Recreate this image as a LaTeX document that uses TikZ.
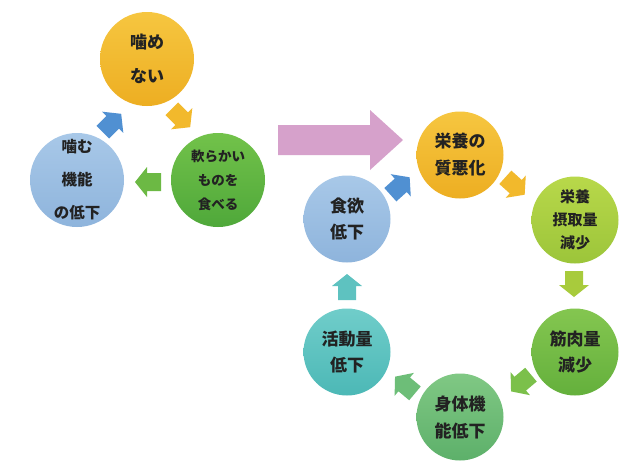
\documentclass[tikz,border=0pt]{standalone}
\usepackage{fontspec}
\setmainfont{Noto Sans CJK JP}
\definecolor{yelT}{HTML}{F6C640}
\definecolor{yelB}{HTML}{EDAE22}
\definecolor{bluT}{HTML}{A8C8E8}
\definecolor{bluB}{HTML}{8EB4DC}
\definecolor{grnT}{HTML}{72C24A}
\definecolor{grnB}{HTML}{4FA83A}
\definecolor{lgrT}{HTML}{B8D84A}
\definecolor{lgrB}{HTML}{9CC53A}
\definecolor{mgrT}{HTML}{84C650}
\definecolor{mgrB}{HTML}{64B03C}
\definecolor{sgrT}{HTML}{80C884}
\definecolor{sgrB}{HTML}{5DB06A}
\definecolor{tealT}{HTML}{70CDCA}
\definecolor{tealB}{HTML}{4CB8B6}
\definecolor{pinkA}{HTML}{D6A1CB}
\definecolor{arBlue}{HTML}{5090D2}
\definecolor{arYel}{HTML}{F2B92C}
\definecolor{arGrn}{HTML}{6CB944}
\definecolor{arLgr}{HTML}{A8CB3C}
\definecolor{arMgr}{HTML}{7BC04A}
\definecolor{arSgr}{HTML}{6DBE78}
\definecolor{arTeal}{HTML}{5EC2C0}
\definecolor{txt}{HTML}{222222}
\tikzset{
  circ/.style={circle, minimum size=#1, inner sep=0pt, align=center, text=txt},
  fs/.style 2 args={font=\fontsize{#1}{#2}\selectfont\bfseries},
  pics/barrow/.style args={#1/#2}{code={
    \fill[#1, rotate=#2] (-13,-9) -- (1,-9) -- (1,-15) -- (13,0) -- (1,15) -- (1,9) -- (-13,9) -- cycle;}}
}
\begin{document}
\begin{tikzpicture}[x=1pt,y=-1pt]
\useasboundingbox[fill=white] (0,0) rectangle (640,475);
% left cluster
\node[circ=94pt, top color=yelT, bottom color=yelB, fs={17}{34}] (kamenai) at (147,59) {噛め\\ない};
\node[circ=94pt, top color=bluT, bottom color=bluB, fs={15.5}{33}] (kinou) at (77,180) {噛む\\機能\\の低下};
\node[circ=94pt, top color=grnT, bottom color=grnB, fs={13.5}{24}] (yawa) at (218,180) {軟らかい\\ものを\\食べる};
\pic (a1) at (112,123) {barrow={arBlue/45}};
\pic (a2) at (181,118) {barrow={arYel/-45}};
\pic (a3) at (148,182) {barrow={arGrn/180}};
% big arrow
\fill[pinkA] (278,125) -- (370,125) -- (370,110) -- (403,140) -- (370,170) -- (370,155) -- (278,155) -- cycle;
% right cluster
\node[circ=87pt, top color=yelT, bottom color=yelB, fs={17}{27}] (shitsu) at (460,155) {栄養の\\質悪化};
\node[circ=87pt, top color=lgrT, bottom color=lgrB, fs={15}{23}] (sesshu) at (575,220) {栄養\\摂取量\\減少};
\node[circ=87pt, top color=mgrT, bottom color=mgrB, fs={17}{26}] (kin) at (575,352) {筋肉量\\減少};
\node[circ=87pt, top color=sgrT, bottom color=sgrB, fs={17}{27}] (shintai) at (460,417) {身体機\\能低下};
\node[circ=87pt, top color=tealT, bottom color=tealB, fs={17}{26}] (katsudo) at (347,352) {活動量\\低下};
\node[circ=87pt, top color=bluT, bottom color=bluB, fs={17}{26}] (shokuyoku) at (347,219) {食欲\\低下};
\pic (b1) at (400,186) {barrow={arBlue/42}};
\pic (b2) at (515,186) {barrow={arYel/-42}};
\pic (b3) at (574,284) {barrow={arLgr/-90}};
\pic (b4) at (521,383) {barrow={arMgr/-140}};
\pic (b5) at (405,385) {barrow={arSgr/140}};
\pic (b6) at (347,287) {barrow={arTeal/90}};
\end{tikzpicture}
\end{document}
